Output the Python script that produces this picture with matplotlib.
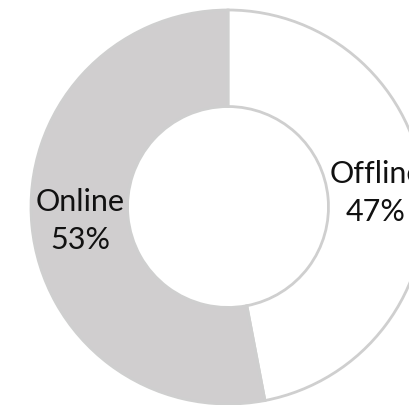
import matplotlib
matplotlib.use('Agg')
from matplotlib import pyplot as plt

labels = ['Offline', 'Online']
shares = [47, 53]
colors = ['#ffffff', '#d0cecf']

plt.rcParams['font.family'] = ['Lato', 'DejaVu Sans']

fig = plt.figure(figsize=(4.10, 4.05), dpi=100)
# centre of the ring at about (228, 207) px, outer radius about 197 px
ax = fig.add_axes([(228 - 197) / 410, (405 - 207 - 197) / 405, 394 / 410, 394 / 405])

texts = ['%s\n%d%%' % (l, v) for l, v in zip(labels, shares)]
wedges, lbls = ax.pie(shares, labels=texts, colors=colors, startangle=90,
                      counterclock=False, radius=1, labeldistance=0.755,
                      wedgeprops=dict(width=0.49, edgecolor='#cfcfcf', linewidth=2),
                      textprops=dict(fontsize=22, color='#111111', linespacing=1.45))
for t in lbls:
    t.set_ha('center')
    t.set_va('center')

ax.set_xlim(-1, 1)
ax.set_ylim(-1, 1)
ax.set_aspect('equal')
ax.axis('off')

fig.savefig('out.png', dpi=100)
